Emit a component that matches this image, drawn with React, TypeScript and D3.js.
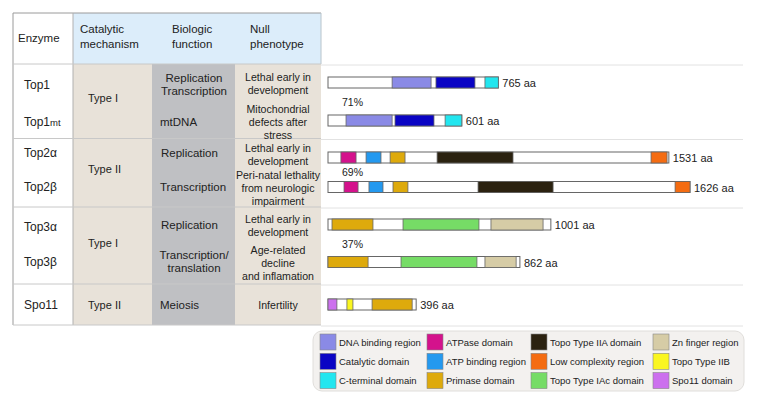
import React from "react";
import * as d3 from "d3";

// ---------- data ----------
const enzymes = ["Top1", "Top1mt", "Top2α", "Top2β", "Top3α", "Top3β", "Spo11"];
const lengths = [765, 601, 1531, 1626, 1001, 862, 396];
const mechanisms = ["Type I", "Type II", "Type I", "Type II"];
const functions = [["Replication", "Transcription"], ["mtDNA"], ["Replication"], ["Transcription"], ["Replication"], ["Transcription/", "translation"], ["Meiosis"]];
const phenotypes = [
  ["Lethal early in", "development"],
  ["Mitochondrial", "defects after", "stress"],
  ["Lethal early in", "development"],
  ["Peri-natal lethality", "from neurologic", "impairment"],
  ["Lethal early in", "development"],
  ["Age-related", "decline", "and inflamation"],
  ["Infertility"],
];
const identities = ["71%", "69%", "37%"];
const headers = [["Enzyme"], ["Catalytic", "mechanism"], ["Biologic", "function"], ["Null", "phenotype"]];

// domains: [start aa, end aa, domain key]
const domainsTop1: [number, number, string][] = [[288, 463, "dna"], [485, 660, "cat"], [705, 765, "cterm"]];
const domainsTop1mt: [number, number, string][] = [[81, 288, "dna"], [301, 476, "cat"], [526, 601, "cterm"]];
const domainsTop2a: [number, number, string][] = [[58, 126, "atpase"], [171, 238, "atpbind"], [279, 346, "primase"], [490, 831, "iia"], [1451, 1523, "lowc"]];
const domainsTop2b: [number, number, string][] = [[72, 135, "atpase"], [184, 247, "atpbind"], [292, 359, "primase"], [674, 1011, "iia"], [1559, 1626, "lowc"]];
const domainsTop3a: [number, number, string][] = [[18, 202, "primase"], [337, 678, "iac"], [732, 966, "zn"]];
const domainsTop3b: [number, number, string][] = [[0, 180, "primase"], [328, 669, "iac"], [705, 845, "zn"]];
const domainsSpo11: [number, number, string][] = [[0, 40, "spo11"], [85, 112, "iib"], [198, 378, "primase"]];
const allDomains = [domainsTop1, domainsTop1mt, domainsTop2a, domainsTop2b, domainsTop3a, domainsTop3b, domainsSpo11];

const legendKeys = ["dna", "cat", "cterm", "atpase", "atpbind", "primase", "iia", "lowc", "iac", "zn", "iib", "spo11"];
const legendLabels = [
  "DNA binding region", "Catalytic domain", "C-terminal domain",
  "ATPase domain", "ATP binding region", "Primase domain",
  "Topo Type IIA domain", "Low complexity region", "Topo Type IAc domain",
  "Zn finger region", "Topo Type IIB", "Spo11 domain",
];
const legendColors = [
  "#8a8ae6", "#0a04c4", "#22e6ef",
  "#d4128c", "#2499ef", "#deaa0c",
  "#2b2210", "#f46c12", "#76dc66",
  "#d6cca6", "#faf620", "#cc70ee",
];

// ---------- layout ----------
const FONT = "'Liberation Sans', Arial, Helvetica, sans-serif";
const rowCenters = [82.5, 120.5, 157.5, 187, 224.5, 262, 304.5];
const groupLines = [64, 138.5, 207, 284, 325];
const groupCenters = [98, 169, 243, 305];
const labelY = [102, 172, 244];
const funcPos = [
  { x: 194, y: 84, anchor: "middle" },
  { x: 160, y: 122, anchor: "start" },
  { x: 161, y: 153, anchor: "start" },
  { x: 160, y: 187, anchor: "start" },
  { x: 161, y: 225, anchor: "start" },
  { x: 194, y: 261, anchor: "middle" },
  { x: 160, y: 305, anchor: "start" },
];
const phenoCenters = [83, 122, 154, 188, 225, 263, 305];

export default function App() {
  const x = d3.scaleLinear().domain([0, 1626]).range([328, 690]);
  const color = d3.scaleOrdinal<string, string>().domain(legendKeys).range(legendColors);
  const barH = 11;
  const txt = "#222";

  return (
    <svg width={759} height={403} style={{ position: "absolute", left: 0, top: 0, background: "#fff" }} fontFamily={FONT}>
      {/* table backgrounds */}
      <rect x={73} y={13} width={248} height={51} fill="#dcedfa" />
      <rect x={73} y={64} width={79} height={261} fill="#e8e2d9" />
      <rect x={152} y={64} width={83} height={261} fill="#bfc0c3" />
      <rect x={235} y={64} width={86} height={261} fill="#e8e2d9" />
      {/* borders */}
      <line x1={13} y1={13} x2={321} y2={13} stroke="#9a9a9a" />
      <line x1={13} y1={13} x2={13} y2={325} stroke="#9a9a9a" />
      <line x1={73} y1={13} x2={73} y2={325} stroke="#b0b0b0" />
      <line x1={321} y1={13} x2={321} y2={64} stroke="#b8c4cc" />
      {groupLines.map((gy, i) => (
        <g key={i}>
          <line x1={13} y1={gy} x2={321} y2={gy} stroke="#c8c8c8" />
          <line x1={321} y1={gy + 1} x2={743} y2={gy + 1} stroke="#e2e2e2" />
        </g>
      ))}
      {/* headers */}
      {headers.map((h, i) => {
        const hx = [18, 80, 172, 250][i];
        const ys = h.length === 1 ? [38] : [29, 44];
        return h.map((t, j) => (
          <text key={i + "-" + j} x={hx} y={ys[j]} fontSize={11.5} fill={txt} dominantBaseline="central">{t}</text>
        ));
      })}
      {/* enzyme names */}
      {enzymes.map((e, i) => {
        const yy = [85, 122, 153, 187, 227, 262, 305][i];
        const x0 = 24;
        if (e === "Top1mt") {
          return (
            <text key={e} x={x0} y={yy} fontSize={12} fill={txt} dominantBaseline="central">
              Top1<tspan fontSize={9.5}>mt</tspan>
            </text>
          );
        }
        return (
          <text key={e} x={x0} y={yy} fontSize={12} fill={txt} dominantBaseline="central">{e}</text>
        );
      })}
      {/* mechanisms */}
      {mechanisms.map((m, i) => (
        <text key={i} x={88} y={groupCenters[i]} fontSize={11} fill={txt} dominantBaseline="central">{m}</text>
      ))}
      {/* functions */}
      {functions.map((f, i) => {
        const p = funcPos[i];
        const n = f.length;
        return f.map((t, j) => (
          <text key={i + "-" + j} x={p.x} y={p.y + (j - (n - 1) / 2) * 13} fontSize={11.5} fill={txt}
            textAnchor={p.anchor as any} dominantBaseline="central">{t}</text>
        ));
      })}
      {/* phenotypes */}
      {phenotypes.map((ph, i) => {
        const n = ph.length;
        return ph.map((t, j) => (
          <text key={i + "-" + j} x={278} y={phenoCenters[i] + (j - (n - 1) / 2) * 13} fontSize={10.6} fill={txt}
            textAnchor="middle" dominantBaseline="central">{t}</text>
        ));
      })}
      {/* bars */}
      {lengths.map((len, i) => {
        const cy = rowCenters[i];
        const y0 = cy - barH / 2;
        return (
          <g key={i}>
            <rect x={x(0)} y={y0} width={x(len) - x(0)} height={barH} fill="#fff" stroke="#666" strokeWidth={1} />
            {allDomains[i].map(([s, e, k], j) => (
              <rect key={j} x={x(s)} y={y0} width={x(e) - x(s)} height={barH} fill={color(k)} stroke="#666" strokeWidth={0.8} />
            ))}
            <text x={x(len) + 4} y={cy + 0.5} fontSize={11} fill={txt} dominantBaseline="central">{len} aa</text>
          </g>
        );
      })}
      {identities.map((p, i) => (
        <text key={p} x={342} y={labelY[i]} fontSize={10.5} fill={txt} dominantBaseline="central">{p}</text>
      ))}
      {/* legend */}
      <rect x={313} y={331} width={431} height={60} rx={9} fill="#f3f1ef" stroke="#e0dedb" />
      {legendLabels.map((l, i) => {
        const col = Math.floor(i / 3);
        const row = i % 3;
        const sx = [320, 427, 531, 653][col];
        const sy = 334 + row * 19.3;
        return (
          <g key={l}>
            <rect x={sx} y={sy} width={16} height={16} fill={legendColors[i]} stroke="#888" strokeWidth={0.6} />
            <text x={sx + 19} y={sy + 8} fontSize={9.5} fill={txt} dominantBaseline="central">{l}</text>
          </g>
        );
      })}
    </svg>
  );
}
